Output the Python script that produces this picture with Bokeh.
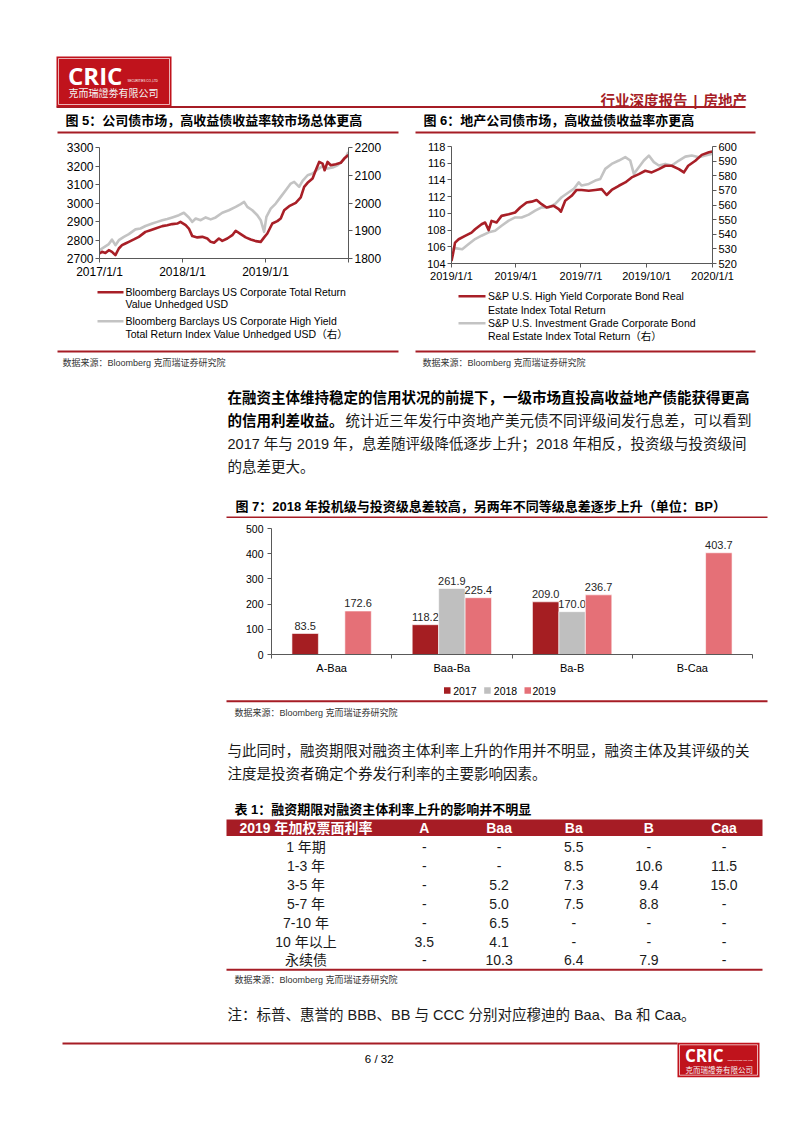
import numpy as np
import pandas as pd
from bokeh.plotting import figure
from bokeh.layouts import column, row
from bokeh.models import Range1d, LinearAxis, FixedTicker
from bokeh.core.properties import value
from bokeh.embed import file_html
from bokeh.resources import INLINE

# ---------------- data ----------------
fig5_red_dates = ["2017-01-01","2017-01-12","2017-01-27","2017-02-11","2017-02-25","2017-03-12","2017-03-27","2017-04-10",
    "2017-04-25","2017-05-10","2017-06-01","2017-06-23","2017-07-22","2017-08-13","2017-09-04","2017-10-04","2017-10-26",
    "2017-11-17","2017-12-09","2017-12-23","2018-01-15","2018-01-29","2018-02-13","2018-03-07","2018-03-29","2018-04-20",
    "2018-05-05","2018-05-20","2018-06-10","2018-06-25","2018-07-17","2018-08-08","2018-08-23","2018-09-14","2018-10-06",
    "2018-10-28","2018-11-19","2018-12-11","2018-12-26","2019-01-09","2019-01-31","2019-02-22","2019-03-09","2019-03-24",
    "2019-04-15","2019-05-14","2019-06-05","2019-06-20","2019-07-05","2019-07-27","2019-08-10","2019-08-25","2019-09-09",
    "2019-09-18","2019-10-01","2019-10-15","2019-11-06","2019-11-28","2019-12-13","2019-12-31"]
fig5_red_vals = [2727,2736,2730,2745,2736,2718,2754,2772,2781,2790,2803,2817,2844,2853,2862,2875,2880,2886,2889,2898,
    2880,2862,2821,2814,2817,2808,2790,2785,2808,2795,2808,2826,2850,2832,2814,2803,2794,2790,2814,2835,2889,2902,2916,
    2961,2983,3001,3030,3087,3109,3132,3177,3222,3213,3177,3222,3204,3210,3217,3240,3259]
fig5_gray_dates = ["2017-01-01","2017-01-20","2017-02-11","2017-02-25","2017-03-12","2017-03-27","2017-04-18","2017-05-10",
    "2017-06-08","2017-06-30","2017-07-22","2017-08-21","2017-09-12","2017-10-04","2017-10-26","2017-11-17","2017-12-16",
    "2018-01-07","2018-01-29","2018-02-13","2018-02-28","2018-03-22","2018-04-13","2018-05-05","2018-05-27","2018-06-25",
    "2018-07-24","2018-08-23","2018-09-14","2018-09-29","2018-10-13","2018-11-04","2018-11-26","2018-12-11","2018-12-26",
    "2019-01-05","2019-01-24","2019-02-15","2019-03-09","2019-03-31","2019-04-22","2019-05-07","2019-05-29","2019-06-13",
    "2019-07-05","2019-07-27","2019-08-18","2019-09-09","2019-10-01","2019-10-23","2019-11-14","2019-12-06","2019-12-21",
    "2019-12-31"]
fig5_gray_vals = [1830,1840,1852,1868,1848,1866,1878,1888,1905,1908,1917,1926,1932,1938,1942,1948,1956,1965,1948,1932,
    1944,1938,1948,1941,1948,1965,1974,1986,1996,2004,1986,1974,1956,1938,1896,1950,1980,1998,2022,2046,2070,2076,2058,
    2080,2100,2106,2121,2133,2124,2128,2136,2152,2166,2184]
fig5_xticks = ["2017-01-01", "2018-01-01", "2019-01-01", "2020-01-01"]
fig5_xlabels = ["2017/1/1", "2018/1/1", "2019/1/1", ""]
fig5_left_ticks = [2700, 2800, 2900, 3000, 3100, 3200, 3300]
fig5_right_ticks = [1800, 1900, 2000, 2100, 2200]

fig6_red_dates = ["2019-01-01","2019-01-03","2019-01-06","2019-01-11","2019-01-20","2019-01-29","2019-02-03","2019-02-12",
    "2019-02-17","2019-02-22","2019-02-26","2019-03-05","2019-03-12","2019-03-22","2019-03-31","2019-04-07","2019-04-16",
    "2019-04-23","2019-04-30","2019-05-07","2019-05-14","2019-05-24","2019-05-31","2019-06-03","2019-06-09","2019-06-18",
    "2019-06-25","2019-07-02","2019-07-12","2019-07-21","2019-07-30","2019-08-06","2019-08-13","2019-08-23","2019-09-01",
    "2019-09-10","2019-09-20","2019-09-29","2019-10-08","2019-10-18","2019-10-27","2019-11-05","2019-11-15","2019-11-22",
    "2019-11-28","2019-12-08","2019-12-17","2019-12-27","2020-01-01"]
fig6_red_vals = [104.3,105.1,106.5,106.9,107.3,107.7,108.1,108.7,108.9,108.0,109.1,108.9,109.7,109.9,110.1,110.7,111.3,
    111.4,111.6,111.1,110.7,110.9,110.5,110.2,111.5,112.1,112.8,112.8,112.7,112.8,112.9,112.2,112.8,113.3,113.7,114.3,
    114.7,115.1,114.9,115.3,115.7,115.7,115.3,114.9,115.7,116.3,117.0,117.3,117.4]
fig6_gray_dates = ["2019-01-01","2019-01-06","2019-01-16","2019-01-25","2019-02-03","2019-02-12","2019-02-22","2019-03-03",
    "2019-03-12","2019-03-22","2019-03-31","2019-04-09","2019-04-19","2019-04-28","2019-05-07","2019-05-17","2019-05-26",
    "2019-06-04","2019-06-14","2019-06-21","2019-06-28","2019-07-02","2019-07-12","2019-07-21","2019-07-28","2019-08-04",
    "2019-08-13","2019-08-23","2019-09-01","2019-09-08","2019-09-13","2019-09-20","2019-09-27","2019-10-04","2019-10-11",
    "2019-10-18","2019-10-27","2019-11-05","2019-11-15","2019-11-24","2019-12-03","2019-12-13","2019-12-22","2020-01-01"]
fig6_gray_vals = [529.8,530.5,529.8,533.3,536.7,539.0,541.3,542.4,545.8,549.3,551.5,551.5,553.4,556.1,558.4,558.4,560.7,
    565.3,568.7,571.0,575.5,573.3,574.4,576.7,577.8,584.7,588.1,590.4,592.7,590.4,581.3,585.8,590.4,593.8,589.3,587.0,
    588.1,587.0,590.4,593.1,593.8,592.7,593.8,595.0]
fig6_xticks = ["2019-01-01", "2019-04-01", "2019-07-01", "2019-10-01", "2020-01-01"]
fig6_xlabels = ["2019/1/1", "2019/4/1", "2019/7/1", "2019/10/1", "2020/1/1"]
fig6_left_ticks = [104, 106, 108, 110, 112, 114, 116, 118]
fig6_right_ticks = [520, 530, 540, 550, 560, 570, 580, 590, 600]

bar_categories = ["A-Baa", "Baa-Ba", "Ba-B", "B-Caa"]
bar_years = ["2017", "2018", "2019"]
bar_2017 = [83.5, 118.2, 209.0, np.nan]
bar_2018 = [np.nan, 261.9, 170.0, np.nan]
bar_2019 = [172.6, 225.4, 236.7, 403.7]
bar_ticks = [0, 100, 200, 300, 400, 500]

table_header = ["2019 年加权票面利率", "A", "Baa", "Ba", "B", "Caa"]
table_rows = ["1 年期", "1-3 年", "3-5 年", "5-7 年", "7-10 年", "10 年以上", "永续债"]
table_A = ["-", "-", "-", "-", "-", "3.5", "-"]
table_Baa = ["-", "-", "5.2", "5.0", "6.5", "4.1", "10.3"]
table_Ba = ["5.5", "8.5", "7.3", "7.5", "-", "-", "6.4"]
table_B = ["-", "10.6", "9.4", "8.8", "-", "-", "7.9"]
table_Caa = ["-", "11.5", "15.0", "-", "-", "-", "-"]

# ---------------- styles ----------------
LAT = "'Liberation Sans', 'Noto Sans CJK SC'"
LOGO = "'Open Sans'"
DARKRED = "#A61C25"
LOGORED = "#C0131C"
RED = "#A81F27"
GRAY = "#C3C3C3"
C17, C18, C19 = "#A51E22", "#BFBFBF", "#E57077"
AXC = "#595959"
TXT = "#1a1a1a"


def band(y0, y1):
    p = figure(width=777, height=y1 - y0, x_range=Range1d(0, 777), y_range=Range1d(y1, y0),
               output_backend="svg", toolbar_location=None, min_border=0,
               x_axis_location=None, y_axis_location=None)
    p.frame_align = False
    p.grid.visible = False
    p.outline_line_color = None
    p.background_fill_color = "white"
    p.border_fill_color = "white"
    return p


def txt(p, x, y, s, size, color="#000000", bold=False, align="left", baseline="middle", font=LAT):
    p.text(x=[x], y=[y], text=[s], text_font=value(font), text_font_size=value(f"{size}px"),
           text_color=color, text_font_style="bold" if bold else "normal",
           text_align=align, text_baseline=baseline)


def hline(p, x0, x1, y, color=DARKRED, w=2.0):
    p.segment(x0=[x0], y0=[y], x1=[x1], y1=[y], line_color=color, line_width=w)


def logo(p, l, r, t, b, cric_size, cric_x, cric_y, small_x, small_y, small_size, cn_x, cn_y, cn_size):
    p.quad(left=[l], right=[r], top=[t], bottom=[b], fill_color=LOGORED, line_color=None)
    p.quad(left=[l + 2], right=[r - 2], top=[t + 2], bottom=[b - 2], fill_color=None,
           line_color="white", line_width=0.8, line_alpha=0.85)
    txt(p, cric_x, cric_y, "CRIC", cric_size, "white", True, font=LOGO)
    txt(p, small_x, small_y, "SECURITIES CO.,LTD", small_size, "white")
    txt(p, cn_x, cn_y, "克而瑞證劵有限公司", cn_size, "#f4f4f4")


def style_axis(ax, size):
    ax.axis_line_color = AXC
    ax.major_tick_line_color = AXC
    ax.major_tick_out = 4
    ax.major_tick_in = 0
    ax.minor_tick_line_color = None
    ax.major_label_text_font = "Liberation Sans"
    ax.major_label_text_font_size = f"{size}px"
    ax.major_label_text_color = "#000000"
    ax.major_label_standoff = 2


def ms(d):
    return float(pd.Timestamp(d).value // 10**6)


def line_chart(width, height, ml, mr, mt, mb, xr, yl, yr, xticks, xlabels, lticks, rticks,
               red_d, red_v, gray_d, gray_v, fs):
    p = figure(width=width, height=height, x_axis_type="datetime",
               x_range=Range1d(pd.Timestamp(xr[0]), pd.Timestamp(xr[1])), y_range=Range1d(*yl),
               output_backend="svg", toolbar_location=None,
               min_border_left=ml, min_border_right=mr, min_border_top=mt, min_border_bottom=mb)
    p.frame_align = False
    p.grid.visible = False
    p.outline_line_color = None
    p.extra_y_ranges = {"right": Range1d(*yr)}
    rax = LinearAxis(y_range_name="right", ticker=FixedTicker(ticks=rticks))
    p.add_layout(rax, "right")
    p.yaxis[0].ticker = FixedTicker(ticks=lticks)
    p.xaxis[0].ticker = FixedTicker(ticks=[ms(d) for d in xticks])
    p.xaxis[0].major_label_overrides = {ms(d): lab for d, lab in zip(xticks, xlabels)}
    for ax in p.axis:
        style_axis(ax, fs)
    p.line(pd.to_datetime(gray_d), gray_v, y_range_name="right", line_color=GRAY, line_width=2.6,
           line_join="round")
    p.line(pd.to_datetime(red_d), red_v, line_color=RED, line_width=2.6, line_join="round")
    return p


# ---------------- band 1: header + titles (y 0..138) ----------------
b1 = band(0, 138)
hline(b1, 56, 745, 106.5)
logo(b1, 56, 171, 56, 106, 24, 67.5, 74.5, 127, 80, 3, 68, 93, 10)
txt(b1, 687, 100, "行业深度报告", 14.5, DARKRED, True, align="right")
txt(b1, 695, 100, "|", 14, DARKRED, True, align="center")
txt(b1, 703, 100, "房地产", 14.5, DARKRED, True)
txt(b1, 65, 120, "图 5：公司债市场，高收益债收益率较市场总体更高", 13, "#000000", True)
txt(b1, 423, 120, "图 6：地产公司债市场，高收益债收益率亦更高", 13, "#000000", True)
hline(b1, 57, 398, 132)
hline(b1, 415, 755, 132)

# ---------------- line charts (y 138..284) ----------------
c5 = line_chart(406, 146, 99, 58, 9, 26, ("2017-01-01", "2020-01-01"), (2700, 3300), (1800, 2200),
                fig5_xticks, fig5_xlabels, fig5_left_ticks, fig5_right_ticks,
                fig5_red_dates, fig5_red_vals, fig5_gray_dates, fig5_gray_vals, 12)
c6 = line_chart(379, 146, 45, 73, 8, 21, ("2019-01-01", "2020-01-01"), (104, 118), (520, 600),
                fig6_xticks, fig6_xlabels, fig6_left_ticks, fig6_right_ticks,
                fig6_red_dates, fig6_red_vals, fig6_gray_dates, fig6_gray_vals, 11)

# ---------------- band 2: legends, sources, paragraph, fig7 title (y 284..518) ----------------
b2 = band(284, 518)
b2.segment(x0=[97], y0=[291.7], x1=[123], y1=[291.7], line_color=RED, line_width=2.6)
txt(b2, 125, 291.7, "Bloomberg Barclays US Corporate Total Return", 10.5)
txt(b2, 125, 303.5, "Value Unhedged USD", 10.5)
b2.segment(x0=[97], y0=[320.7], x1=[123], y1=[320.7], line_color=GRAY, line_width=2.6)
txt(b2, 125, 320.7, "Bloomberg Barclays US Corporate High Yield", 10.5)
txt(b2, 125, 333, "Total Return Index Value Unhedged USD（右）", 10.5)

b2.segment(x0=[458], y0=[295.7], x1=[485], y1=[295.7], line_color=RED, line_width=2.6)
txt(b2, 487.5, 295.7, "S&P U.S. High Yield Corporate Bond Real", 10.5)
txt(b2, 487.5, 309.3, "Estate Index Total Return", 10.5)
b2.segment(x0=[458], y0=[322.7], x1=[485], y1=[322.7], line_color=GRAY, line_width=2.6)
txt(b2, 487.5, 322.7, "S&P U.S. Investment Grade Corporate Bond", 10.5)
txt(b2, 487.5, 335, "Real Estate Index Total Return（右）", 10.5)

hline(b2, 57, 398, 351)
hline(b2, 415, 755, 351)
txt(b2, 62, 362, "数据来源：Bloomberg 克而瑞证券研究院", 9, "#333333")
txt(b2, 422, 362, "数据来源：Bloomberg 克而瑞证券研究院", 9, "#333333")

txt(b2, 227, 397, "在融资主体维持稳定的信用状况的前提下，一级市场直投高收益地产债能获得更高", 14.5, "#000000", True)
txt(b2, 227, 420, "的信用利差收益。", 14.5, "#000000", True)
txt(b2, 345, 420, "统计近三年发行中资地产美元债不同评级间发行息差，可以看到", 14.5, TXT)
txt(b2, 227, 443, "2017 年与 2019 年，息差随评级降低逐步上升；2018 年相反，投资级与投资级间", 14.5, TXT)
txt(b2, 227, 466, "的息差更大。", 14.5, TXT)

txt(b2, 235, 506, "图 7：2018 年投机级与投资级息差较高，另两年不同等级息差逐步上升（单位：BP）", 13, "#000000", True)
hline(b2, 226, 767, 517)

# ---------------- bar chart (y 518..678) ----------------
pb = figure(width=777, height=160, x_range=Range1d(0, 4), y_range=Range1d(0, 500),
            output_backend="svg", toolbar_location=None,
            min_border_left=271, min_border_right=25, min_border_top=10, min_border_bottom=24)
pb.frame_align = False
pb.grid.visible = False
pb.outline_line_color = None
xc = np.arange(len(bar_categories)) + 0.5
for off, vals, col in [(-0.22, bar_2017, C17), (0.0, bar_2018, C18), (0.22, bar_2019, C19)]:
    v = np.array(vals, dtype=float)
    pb.vbar(x=xc + off, top=v, width=0.22, fill_color=col, line_color="white", line_width=0.6)
    ok = ~np.isnan(v)
    pb.text(x=(xc + off)[ok], y=v[ok] + 14, text=[f"{t:.1f}" for t in v[ok]],
            text_font=value(LAT), text_font_size=value("11px"), text_color="#262626",
            text_align="center", text_baseline="bottom")
pb.yaxis[0].ticker = FixedTicker(ticks=bar_ticks)
pb.xaxis[0].ticker = FixedTicker(ticks=list(xc), minor_ticks=list(range(len(bar_categories) + 1)))
pb.xaxis[0].major_label_overrides = {float(x): c for x, c in zip(xc, bar_categories)}
for ax in pb.axis:
    style_axis(ax, 10.5)
pb.xaxis[0].major_tick_line_color = None
pb.xaxis[0].minor_tick_line_color = AXC
pb.xaxis[0].minor_tick_out = 4
pb.xaxis[0].minor_tick_in = 0
pb.xaxis[0].major_label_standoff = 3
pb.yaxis[0].major_label_standoff = 4
pb.xaxis[0].major_label_text_font_size = "11px"

# ---------------- band 3: legend, paragraph, table, footer (y 678..1114) ----------------
b3 = band(678, 1114)
for sx, tx, col, lab in [(443.5, 452.7, C17, bar_years[0]), (483.7, 493.3, C18, bar_years[1]),
                         (524.0, 532.0, C19, bar_years[2])]:
    b3.quad(left=[sx], right=[sx + 6.5], top=[686.8], bottom=[693.3], fill_color=col, line_color=None)
    txt(b3, tx, 690, lab, 10.5)
hline(b3, 226, 767, 700.7)
txt(b3, 234, 712.7, "数据来源：Bloomberg  克而瑞证券研究院", 9, "#333333")

txt(b3, 227, 750, "与此同时，融资期限对融资主体利率上升的作用并不明显，融资主体及其评级的关", 14.5, TXT)
txt(b3, 227, 773, "注度是投资者确定个券发行利率的主要影响因素。", 14.5, TXT)

txt(b3, 234, 809, "表 1：融资期限对融资主体利率上升的影响并不明显", 13, "#000000", True)
b3.quad(left=[226], right=[762], top=[819], bottom=[835.5], fill_color=DARKRED, line_color=None)
col_x = [305.5, 423.8, 498.6, 573.3, 648.4, 723.5]
for x, s in zip(col_x, table_header):
    txt(b3, x, 827.5, s, 14, "white", True, align="center")
cols = [table_A, table_Baa, table_Ba, table_B, table_Caa]
for i, lab in enumerate(table_rows):
    y = 846.5 + 18.9 * i
    txt(b3, col_x[0], y, lab, 14, TXT, align="center")
    for j, c in enumerate(cols):
        txt(b3, col_x[j + 1], y, c[i], 14, TXT, align="center")
hline(b3, 226, 762, 969.3)
txt(b3, 234, 979.5, "数据来源：Bloomberg  克而瑞证券研究院", 9, "#333333")

txt(b3, 227, 1014, "注：标普、惠誉的 BBB、BB 与 CCC 分别对应穆迪的 Baa、Ba 和 Caa。", 14.5, TXT)

hline(b3, 62, 677, 1043)
logo(b3, 677, 759, 1042.3, 1076.7, 17, 684.5, 1055, 727, 1060, 2.5, 685, 1069.5, 7.5)
txt(b3, 378.7, 1058, "6 / 32", 11.5, "#000000", align="center")

layout = column(b1, row(c5, c6, spacing=0), b2, pb, b3, spacing=0)
open("out.html", "w").write(file_html(layout, INLINE))
